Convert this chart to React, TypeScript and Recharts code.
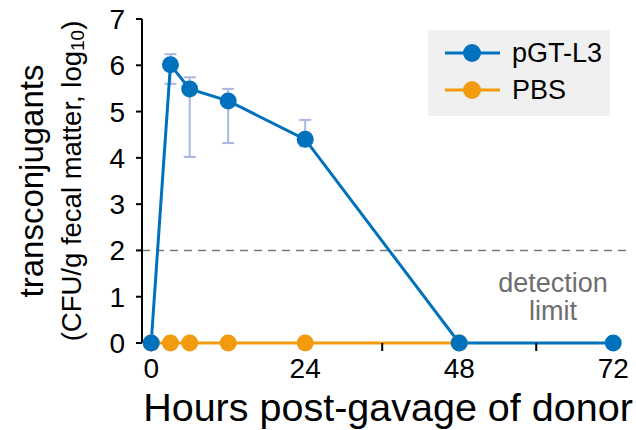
import React from 'react';
import { LineChart, Line, XAxis, YAxis, ReferenceLine, ErrorBar, Legend } from 'recharts';

// hours after gavage
const hours = [0, 3, 6, 12, 24, 48, 72];
// log10 CFU/g, mean and error-bar limits for pGT-L3
const pgtMean = [0, 6.01, 5.49, 5.23, 4.4, 0, 0];
const pgtLower = [null, 5.6, 4.02, 4.32, 4.25, null, null];
const pgtUpper = [null, 6.24, 5.74, 5.49, 4.82, null, null];
// PBS control stays at 0 (measured up to 48 h)
const pbsMean = [0, 0, 0, 0, 0, 0, null];

const seriesNames = ['pGT-L3', 'PBS'];
const yTicks = [0, 1, 2, 3, 4, 5, 6, 7];
const xTicks = [0, 12, 24, 36, 48, 60, 72];
const xLabeledTicks = [0, 24, 48, 72];
const detectionLimit = 2;

const BLUE = '#0072bd';
const ORANGE = '#f39b0f';
const FONT = '"Liberation Sans", Arial, sans-serif';

const data = hours.map((h, i) => ({
  hours: h,
  pgt: pgtMean[i],
  pbs: pbsMean[i],
  pgtErr:
    pgtLower[i] == null
      ? undefined
      : [pgtMean[i] - (pgtLower[i] as number), (pgtUpper[i] as number) - pgtMean[i]],
}));

const LegendBox = ({ payload }: any) => {
  const items = [...(payload || [])].sort(
    (a: any, b: any) => seriesNames.indexOf(a.value) - seriesNames.indexOf(b.value)
  );
  return (
    <div style={{ width: 182, height: 86, background: '#f0f0f0' }}>
      <svg width={182} height={86} style={{ display: 'block' }}>
        {items.map((p: any, i: number) => (
          <g key={p.value} transform={`translate(0, ${23 + i * 37})`}>
            <line x1={17} x2={72} y1={0} y2={0} stroke={p.color} strokeWidth={3} />
            <circle cx={44} cy={0} r={9} fill={p.color} />
            <text x={84} y={0} dominantBaseline="central" fontSize={27} fill="#000" fontFamily={FONT}>
              {p.value}
            </text>
          </g>
        ))}
      </svg>
    </div>
  );
};

const YLabel = () => (
  <g fontFamily={FONT} fill="#000">
    <text transform="translate(31, 181) rotate(-90)" textAnchor="middle" dominantBaseline="central" fontSize={33}>
      transconjugants
    </text>
    <text transform="translate(71, 181) rotate(-90)" textAnchor="middle" dominantBaseline="central" fontSize={27.5}>
      (CFU/g fecal matter, log
      <tspan fontSize={19} dy={6}>10</tspan>
      <tspan dy={-6}>)</tspan>
    </text>
  </g>
);

const XLabel = ({ viewBox }: any) => (
  <text
    x={viewBox.x + viewBox.width / 2 + 3}
    y={421}
    textAnchor="middle"
    fontSize={39.5}
    fill="#000"
    fontFamily={FONT}
  >
    Hours post-gavage of donor
  </text>
);

const LimitLabel = () => (
  <text textAnchor="middle" fontSize={27} fill="#6e6e6e" fontFamily={FONT}>
    <tspan x={553} y={292}>detection</tspan>
    <tspan x={553} y={320}>limit</tspan>
  </text>
);

const App: React.FC = () => {
  return (
    <div style={{ position: 'absolute', left: 0, top: 0, width: 636, height: 430, background: '#fff', fontFamily: FONT }}>
      <LineChart width={636} height={430} data={data} margin={{ top: 19, right: 8, left: 80, bottom: 47 }}>
        <XAxis
          dataKey="hours"
          type="number"
          domain={[-1.43, 74.3]}
          ticks={xTicks}
          tickFormatter={(v: number) => (xLabeledTicks.includes(v) ? String(v) : '')}
          axisLine={false}
          tickLine={{ stroke: '#000', strokeWidth: 2 }}
          tickSize={8}
          tickMargin={7}
          tick={{ fill: '#000', fontSize: 28 }}
          height={40}
          label={<XLabel />}
        />
        <YAxis
          domain={[0, 7]}
          ticks={yTicks}
          width={62}
          axisLine={{ stroke: '#000', strokeWidth: 2 }}
          tickLine={{ stroke: '#000', strokeWidth: 2 }}
          tickSize={6}
          tickMargin={11}
          tick={{ fill: '#000', fontSize: 28 }}
          label={<YLabel />}
        />
        <ReferenceLine
          y={detectionLimit}
          stroke="#7a7a7a"
          strokeWidth={1.5}
          strokeDasharray="8 6"
          label={<LimitLabel />}
        />
        <Legend
          layout="horizontal"
          verticalAlign="middle"
          align="center"
          content={<LegendBox />}
          wrapperStyle={{ left: 428, top: 30, width: 182, height: 86 }}
        />
        <Line
          name="PBS"
          dataKey="pbs"
          stroke={ORANGE}
          strokeWidth={3}
          dot={{ r: 8.5, fill: ORANGE, stroke: 'none' }}
          activeDot={false}
          isAnimationActive={false}
        />
        <Line
          name="pGT-L3"
          dataKey="pgt"
          stroke={BLUE}
          strokeWidth={3}
          dot={{ r: 8.5, fill: BLUE, stroke: 'none' }}
          activeDot={false}
          isAnimationActive={false}
        >
          <ErrorBar dataKey="pgtErr" direction="y" width={6} stroke="#a7b8e2" strokeWidth={2} />
        </Line>
      </LineChart>
    </div>
  );
};

export default App;
